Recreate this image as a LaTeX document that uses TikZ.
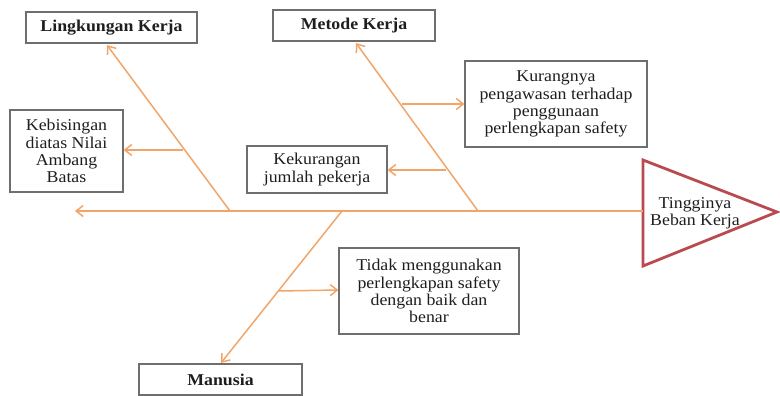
\documentclass[tikz,border=0pt]{standalone}
\usepackage{fontspec}
\setmainfont{Liberation Serif}[FakeStretch=1.08]
\usetikzlibrary{arrows.meta,calc}
\definecolor{fishorange}{RGB}{242,165,105}
\definecolor{headred}{RGB}{185,75,80}
\definecolor{boxgray}{RGB}{110,110,110}
\definecolor{txt}{RGB}{30,30,30}
\begin{document}
\begin{tikzpicture}[x=1pt,y=-1pt,
  box/.style={draw=boxgray,line width=1.1pt,align=center,inner sep=0pt,
    text=txt,font=\fontsize{16.5}{17.2}\selectfont},
  cat/.style={box,font=\fontsize{16.5}{17.2}\selectfont\bfseries},
  bone/.style={draw=fishorange,line width=1.5pt,-{Straight Barb[length=7pt,width=11pt]}}]
\useasboundingbox (0,0) rectangle (780,396);
% category boxes
\node[cat,minimum width=171pt,minimum height=31pt] (ling) at (111.5,27.5) {Lingkungan Kerja};
\node[cat,minimum width=162pt,minimum height=31pt] (met) at (354,25.5) {Metode Kerja};
\node[cat,minimum width=163pt,minimum height=31pt] (man) at (220.5,379.5) {Manusia};
% cause boxes
\node[box,minimum width=113pt,minimum height=82pt] (keb) at (66.5,151) {Kebisingan\\diatas Nilai\\Ambang\\Batas};
\node[box,minimum width=140pt,minimum height=47pt] (kek) at (317,169.5) {Kekurangan\\jumlah pekerja};
\node[box,minimum width=182pt,minimum height=86pt] (kur) at (556,104) {Kurangnya\\pengawasan terhadap\\penggunaan\\perlengkapan safety};
\node[box,minimum width=180pt,minimum height=86pt] (tid) at (429,291) {Tidak menggunakan\\perlengkapan safety\\dengan baik dan\\benar};
% head triangle
\coordinate (tA) at (643,160);
\coordinate (tB) at (777,212);
\coordinate (tC) at (643,266);
\draw[headred,line width=2.8pt,line join=miter] (tA) -- (tB) -- (tC) -- cycle;
\node[align=center,text=txt,font=\fontsize{16.5}{17.2}\selectfont] (head) at (695,213) {Tingginya\\Beban Kerja};
% spine
\coordinate (spR) at (643,211);
\coordinate (spL) at (75,211);
\draw[bone] (spR) -- (spL);
% branch points on spine
\coordinate (bL) at (230,211);
\coordinate (bM) at (478,211);
\coordinate (bH) at (342,211);
\draw[bone] (bL) -- ($(ling.south)+(-4.5,1.5)$);
\draw[bone] (bM) -- ($(met.south)+(2,1.5)$);
\draw[bone] (bH) -- ($(man.north)+(0.5,-0.5)$);
% sub-causes
\coordinate (sL) at (183,150);
\coordinate (sM1) at (402,104);
\coordinate (sM2) at (446,170);
\coordinate (sH) at (279,291);
\draw[bone] (sL) -- (keb.east |- sL);
\draw[bone] (sM1) -- (kur.west |- sM1);
\draw[bone] (sM2) -- (kek.east |- sM2);
\draw[bone] (sH) -- ($(tid.west)+(0,-1)$);
\end{tikzpicture}
\end{document}
